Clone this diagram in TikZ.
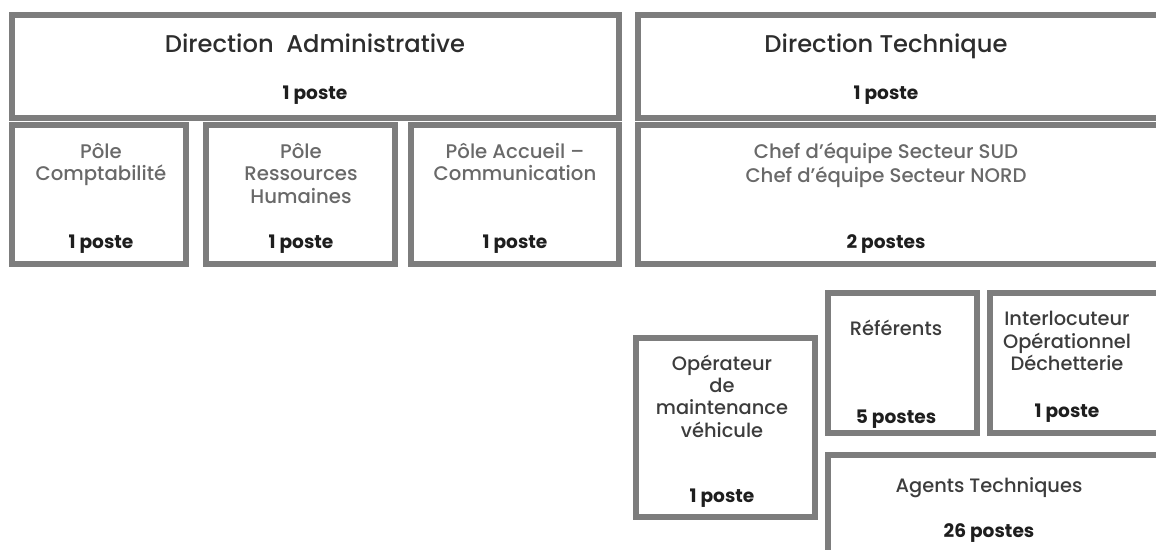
\documentclass[tikz,border=0pt]{standalone}
\usepackage{fontspec}
\setmainfont{Poppins}[UprightFont=*-Medium, BoldFont=*-Bold]
\definecolor{boxgray}{RGB}{125,125,125}
\definecolor{titlecol}{RGB}{45,45,45}
\definecolor{labelcol}{RGB}{105,105,105}
\definecolor{darklabel}{RGB}{60,60,60}
\definecolor{postecol}{RGB}{30,30,30}
\tikzset{
  orgbox/.style={draw=boxgray, line width=6pt},
  ttl/.style={anchor=base, inner sep=0pt, text=titlecol, font=\fontsize{24.2}{26}\selectfont},
  lbl/.style={anchor=base, inner sep=0pt, text=labelcol, font=\fontsize{19.7}{22}\selectfont},
  dlbl/.style={anchor=base, inner sep=0pt, text=darklabel, font=\fontsize{19.4}{22}\selectfont},
  pst/.style={anchor=base, inner sep=0pt, text=postecol, font=\bfseries\fontsize{18.6}{22}\selectfont},
}
\begin{document}
\begin{tikzpicture}[x=1pt,y=-1pt]
\useasboundingbox (0,0) rectangle (1156,549);
\clip (0,0) rectangle (1156,549);
% boxes (centre lines = outer edge - 3)
\draw[orgbox] (12,15) rectangle (619,118);
\draw[orgbox] (638,15) rectangle (1170,118);
\draw[orgbox] (12,125) rectangle (186,264);
\draw[orgbox] (206,125) rectangle (395,264);
\draw[orgbox] (411,125) rectangle (619,264);
\draw[orgbox] (638,125) rectangle (1170,264);
\draw[orgbox] (636,338) rectangle (815,517);
\draw[orgbox] (828,293) rectangle (977,433);
\draw[orgbox] (990,293) rectangle (1170,433);
\draw[orgbox] (828,455) rectangle (1170,570);
% Direction Administrative
\node[ttl] (da) at (315,52) {Direction\ \ Administrative};
\node[pst] (dap) at (315,99) {1 poste};
% Direction Technique
\node[ttl] (dt) at (886,52) {Direction Technique};
\node[pst] (dtp) at (886,99) {1 poste};
% Poles
\node[lbl] (pc1) at (101,158) {Pôle};
\node[lbl] (pc2) at (101,180) {Comptabilité};
\node[pst] (pcp) at (101,248) {1 poste};
\node[lbl] (rh1) at (301,158) {Pôle};
\node[lbl] (rh2) at (301,180) {Ressources};
\node[lbl] (rh3) at (301,203) {Humaines};
\node[pst] (rhp) at (301,248) {1 poste};
\node[lbl] (pa1) at (515,158) {Pôle Accueil –};
\node[lbl] (pa2) at (515,180) {Communication};
\node[pst] (pap) at (515,248) {1 poste};
% Chefs
\node[lbl] (ch1) at (886,158) {Chef d’équipe Secteur SUD};
\node[lbl] (ch2) at (886,182) {Chef d’équipe Secteur NORD};
\node[pst] (chp) at (886,248) {2 postes};
% Operateur
\node[dlbl] (op1) at (722,370) {Opérateur};
\node[dlbl] (op2) at (722,392) {de};
\node[dlbl] (op3) at (722,414) {maintenance};
\node[dlbl] (op4) at (722,437) {véhicule};
\node[pst] (opp) at (722,502) {1 poste};
% Referents
\node[dlbl] (re1) at (896,335) {Référents};
\node[pst] (rep) at (896,423) {5 postes};
% Interlocuteur
\node[dlbl] (in1) at (1067,325) {Interlocuteur};
\node[dlbl] (in2) at (1067,348) {Opérationnel};
\node[dlbl] (in3) at (1067,370) {Déchetterie};
\node[pst] (inp) at (1067,417) {1 poste};
% Agents
\node[dlbl] (ag1) at (989,492) {Agents Techniques};
\node[pst] (agp) at (989,537) {26 postes};
\end{tikzpicture}
\end{document}
